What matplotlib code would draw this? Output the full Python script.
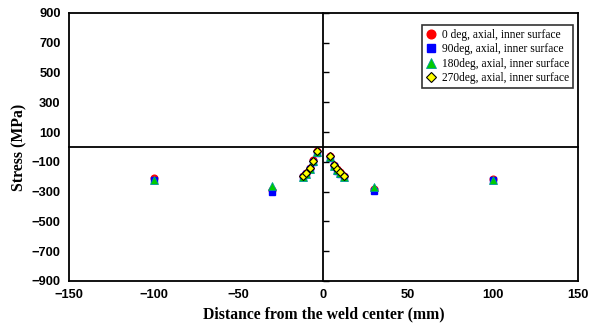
import numpy as np
import matplotlib.pyplot as plt

# distance from the weld center (mm)
x_pos = [-100, -30, -12, -10, -8, -6, -4, 4, 6, 8, 10, 12, 30, 100]

stress_0 = [-208, -290, -195, -175, -140, -90, -30, -60, -120, -150, -170, -195, -282, -215]
stress_90 = [-222, -305, -200, -185, -150, -100, -42, -72, -130, -160, -182, -202, -298, -220]
stress_180 = [-225, -265, -205, -180, -146, -96, -36, -66, -126, -156, -176, -205, -272, -222]
stress_270 = [np.nan, np.nan, -197, -177, -143, -92, -27, -60, -121, -150, -170, -197, np.nan, np.nan]

labels = [
    "0 deg, axial, inner surface",
    "90deg, axial, inner surface",
    "180deg, axial, inner surface",
    "270deg, axial, inner surface",
]

x_ticks = [-150, -100, -50, 0, 50, 100, 150]
y_ticks = [-900, -700, -500, -300, -100, 100, 300, 500, 700, 900]

fig = plt.figure(figsize=(5.89, 3.32), dpi=100)
rect = [0.117, 0.154, 0.864, 0.807]
ax = fig.add_axes(rect)

ax.plot(x_pos, stress_0, "o", color="#ff0000", ms=4.8, mec="#ff0000", label=labels[0], zorder=3)
ax.plot(x_pos, stress_90, "s", color="#0000ff", ms=4.5, mec="#0000ff", label=labels[1], zorder=3)
ax.plot(x_pos, stress_180, "^", color="#00cc00", ms=5.2, mec="#009999", mew=0.6, label=labels[2], zorder=3)
ax.plot(x_pos, stress_270, "D", color="#ffff00", ms=4.3, mec="black", mew=0.8, label=labels[3], zorder=4)

ax.set_xlim(-150, 150)
ax.set_ylim(-900, 900)
ax.set_xticks(x_ticks)
ax.set_yticks(y_ticks)
ax.tick_params(length=0, labelsize=9.3, pad=6)
for lab in ax.get_xticklabels() + ax.get_yticklabels():
    lab.set_family("Liberation Sans")
    lab.set_fontweight("bold")
for s in ax.spines.values():
    s.set_linewidth(1.3)

ax.set_xlabel("Distance from the weld center (mm)", family="Liberation Serif",
              fontweight="bold", fontsize=11.3, labelpad=4)
ax.set_ylabel("Stress (MPa)", family="Liberation Serif", fontweight="bold",
              fontsize=11.3, labelpad=3)

# axes crossing at zero
ax2 = fig.add_axes(rect, sharex=ax, sharey=ax, frameon=True)
ax2.patch.set_visible(False)
ax2.spines["left"].set_position(("data", 0))
ax2.spines["bottom"].set_position(("data", 0))
ax2.spines["right"].set_visible(False)
ax2.spines["top"].set_visible(False)
ax2.spines["left"].set_linewidth(1.3)
ax2.spines["bottom"].set_linewidth(1.3)
ax2.tick_params(axis="y", direction="in", length=4, width=1, labelleft=False)
ax2.tick_params(axis="x", length=0, labelbottom=False)

leg = ax.legend(loc="upper right", prop={"family": "Liberation Serif", "size": 8.3},
                frameon=True, fancybox=False, edgecolor="black", handletextpad=0.5,
                borderpad=0.3, labelspacing=0.22, handlelength=1.0, markerscale=1.3,
                bbox_to_anchor=(1.002, 0.975))
leg.get_frame().set_linewidth(1.2)
leg.set_zorder(10)

fig.savefig("out.png", dpi=100)
